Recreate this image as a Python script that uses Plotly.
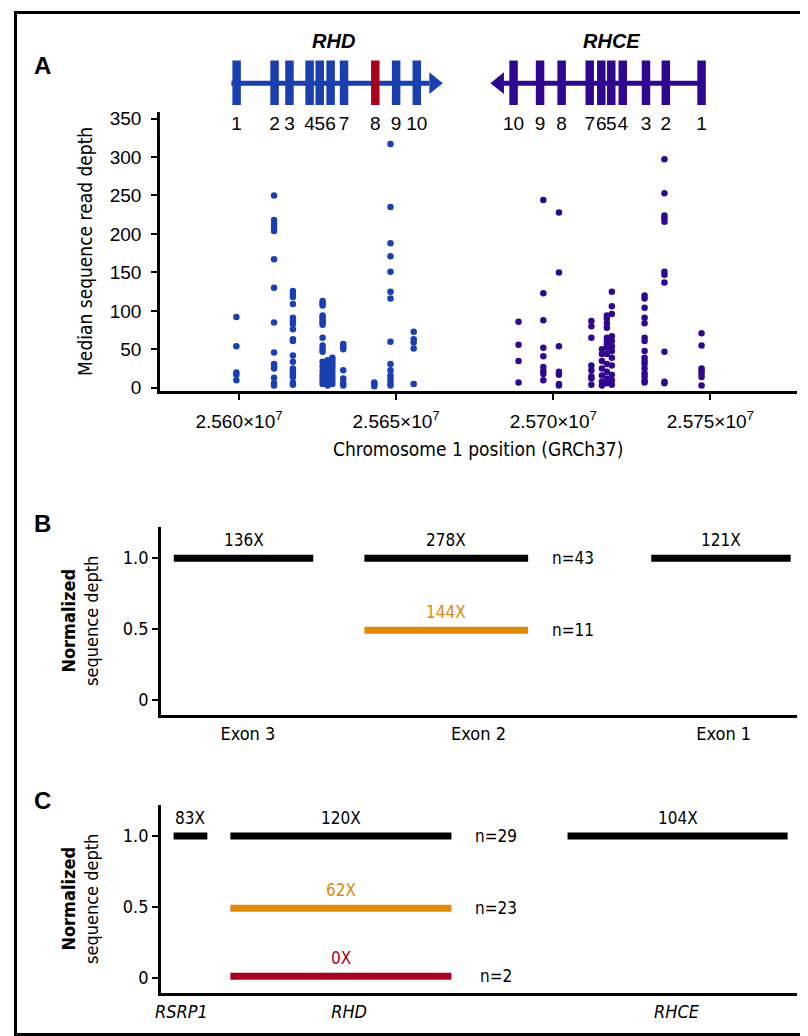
import plotly.graph_objects as go

W, H = 808, 1036

# ---------------------------------------------------------------------------
# Panel A: median read depth per amplicon (GRCh37, chr1)
# ---------------------------------------------------------------------------
rhd_col_pos = [25599150, 25611150, 25617150, 25626600, 25628200, 25629700,
               25633170, 25643050, 25648200, 25655590]
rhd_col_depth = [
    [92, 54, 20, 17, 10],
    [250, 218, 213, 209, 204, 167, 130, 85, 46, 31, 28, 25, 13, 6, 3],
    [126, 122, 118, 109, 91, 87, 83, 76, 63, 61, 42, 34, 25, 22, 18, 16, 14, 7, 4],
    [113, 110, 107, 94, 91, 88, 85, 82, 65, 55, 50, 47, 34, 28, 22, 17, 13, 9, 5],
    [36, 31, 26, 21, 15, 10, 6, 3],
    [39, 36, 32, 28, 24, 19, 14, 9, 5],
    [57, 54, 50, 23, 12, 7, 3],
    [7, 5, 2],
    [317, 235, 188, 171, 151, 125, 116, 60, 31, 23, 16, 11, 6, 3],
    [73, 63, 59, 51, 5],
]

rhce_col_pos = [25688950, 25696840, 25701800, 25712130, 25715480, 25717060,
                25718640, 25729060, 25735380, 25747190]
rhce_col_depth = [
    [86, 56, 35, 7],
    [244, 123, 88, 52, 41, 27, 22, 18, 10],
    [228, 150, 54, 21, 17, 5, 3],
    [87, 80, 65, 29, 23, 15, 12, 4],
    [50, 44, 35, 25, 16, 8, 3],
    [94, 90, 84, 78, 65, 61, 56, 52, 44, 31, 21, 12, 6],
    [125, 106, 96, 67, 61, 54, 48, 39, 29, 17, 10, 4],
    [120, 116, 104, 91, 84, 65, 61, 48, 39, 35, 31, 25, 19, 15, 10, 7],
    [297, 253, 224, 220, 216, 151, 147, 137, 47, 8, 6],
    [71, 55, 25, 22, 19, 14, 3],
]

# gene models (exon centres, left to right)
rhd_exons = [25599240, 25611310, 25616050, 25622460, 25625680, 25629150,
             25633420, 25643370, 25650000, 25656570]
rhd_exon_names = ["1", "2", "3", "4", "5", "6", "7", "8", "9", "10"]
rhd_span = [25597570, 25664850]      # start, arrow tip
rhd_variant_exon = "8"

rhce_exons = [25687370, 25695800, 25702660, 25711600, 25715290, 25718450,
              25722110, 25729500, 25735820, 25747190]
rhce_exon_names = ["10", "9", "8", "7", "6", "5", "4", "3", "2", "1"]
rhce_span = [25680000, 25747190]     # arrow tip, end

x_ticks = [25600000, 25650000, 25700000, 25750000]
x_tick_text = ["2.560×10<sup>7</sup>", "2.565×10<sup>7</sup>",
               "2.570×10<sup>7</sup>", "2.575×10<sup>7</sup>"]

# ---------------------------------------------------------------------------
# Panel B: exon-level normalized depth
# ---------------------------------------------------------------------------
b_categories = ["Exon 3", "Exon 2", "Exon 1"]
b_seg_start = [1.3, 20.5, 49.4, 20.5]
b_seg_end = [15.35, 37.0, 63.45, 37.0]
b_seg_depth = [1.0, 1.0, 1.0, 0.49]
b_seg_label = ["136X", "278X", "121X", "144X"]
b_seg_state = ["normal", "normal", "normal", "het"]
b_n_labels = ["n=43", "n=11"]
b_n_depth = [1.0, 0.49]

# ---------------------------------------------------------------------------
# Panel C: gene-level normalized depth
# ---------------------------------------------------------------------------
c_categories = ["RSRP1", "RHD", "RHCE"]
c_seg_start = [1.28, 7.0, 40.97, 7.0, 7.0]
c_seg_end = [4.68, 29.27, 63.14, 29.27, 29.27]
c_seg_depth = [1.0, 1.0, 1.0, 0.49, 0.01]
c_seg_label = ["83X", "120X", "104X", "62X", "0X"]
c_seg_state = ["normal", "normal", "normal", "het", "del"]
c_n_labels = ["n=29", "n=23", "n=2"]
c_n_depth = [1.0, 0.49, 0.01]

# ---------------------------------------------------------------------------
# styling
# ---------------------------------------------------------------------------
REG = "Liberation Sans, Arial, Helvetica, sans-serif"
NARROW = "Liberation Sans Narrow, Arial Narrow, DejaVu Sans Condensed, sans-serif"
BLUE = "#1a3faf"
PURPLE = "#30088f"
RED = "#a8001f"
ORANGE = "#e08a0c"
STATE_COLOR = {"normal": "black", "het": ORANGE, "del": RED}


def fx(px):
    return px / W


def fy(py):
    return 1 - py / H


def paper_text(px, py, text, font, angle=0):
    return dict(x=fx(px), y=fy(py), xref="paper", yref="paper", text=text,
                xanchor="center", yanchor="middle", textangle=angle,
                showarrow=False, font=font)


fig = go.Figure()

# scatter columns
for pos_list, depth_list, color in [(rhd_col_pos, rhd_col_depth, BLUE),
                                    (rhce_col_pos, rhce_col_depth, PURPLE)]:
    xs, ys = [], []
    for p, d in zip(pos_list, depth_list):
        xs += [p] * len(d)
        ys += d
    fig.add_trace(go.Scatter(x=xs, y=ys, mode="markers", xaxis="x", yaxis="y",
                             marker=dict(size=6.5, color=color), hoverinfo="skip"))

# exon numbers (also creates the gene-track subplot)
fig.add_trace(go.Scatter(
    x=rhd_exons + rhce_exons, y=[115] * (len(rhd_exons) + len(rhce_exons)),
    text=rhd_exon_names + rhce_exon_names, mode="text", xaxis="x", yaxis="y2",
    textfont=dict(family=REG, size=19, color="black"), hoverinfo="skip",
    cliponaxis=False))

shapes = []
EXON_HALF = 1350
HEAD = 4300


def gene_shapes(exons, names, start, end, color, tip_right):
    out = []
    if tip_right:
        line_x0, line_x1 = start, end - HEAD
        head = f"M {end - HEAD},62 L {end},73 L {end - HEAD},84 Z"
    else:
        line_x0, line_x1 = start + HEAD, end
        head = f"M {start + HEAD},62 L {start},73 L {start + HEAD},84 Z"
    out.append(dict(type="rect", xref="x", yref="y2", x0=line_x0, x1=line_x1,
                    y0=70.5, y1=75.5, fillcolor=color, line=dict(width=0)))
    out.append(dict(type="path", xref="x", yref="y2", path=head,
                    fillcolor=color, line=dict(width=0)))
    for c, n in zip(exons, names):
        col = RED if (tip_right and n == rhd_variant_exon) else color
        out.append(dict(type="rect", xref="x", yref="y2", x0=c - EXON_HALF,
                        x1=c + EXON_HALF, y0=50, y1=95, fillcolor=col,
                        line=dict(width=0)))
    return out


shapes += gene_shapes(rhd_exons, rhd_exon_names, rhd_span[0], rhd_span[1], BLUE, True)
shapes += gene_shapes(rhce_exons, rhce_exon_names, rhce_span[0], rhce_span[1], PURPLE, False)

# panels B and C segments
annotations = []
for xa, ya, starts, ends, depths, labels, states in [
        ("x2", "y3", b_seg_start, b_seg_end, b_seg_depth, b_seg_label, b_seg_state),
        ("x3", "y4", c_seg_start, c_seg_end, c_seg_depth, c_seg_label, c_seg_state)]:
    for s, e, d, lab, st in zip(starts, ends, depths, labels, states):
        col = STATE_COLOR[st]
        fig.add_trace(go.Scatter(x=[s, e], y=[d, d], mode="lines", xaxis=xa, yaxis=ya,
                                 line=dict(color=col, width=7), hoverinfo="skip"))
        annotations.append(dict(x=(s + e) / 2, y=d, xref=xa, yref=ya, text=lab,
                                xanchor="center", yanchor="middle",
                                showarrow=False, yshift=18,
                                font=dict(family=NARROW, size=17, color=col)))

for xa, ya, labels, depths, xpos in [("x2", "y3", b_n_labels, b_n_depth, 41.5),
                                     ("x3", "y4", c_n_labels, c_n_depth, 33.8)]:
    for lab, d in zip(labels, depths):
        annotations.append(dict(x=xpos, y=d, xref=xa, yref=ya, text=lab,
                                xanchor="center", yanchor="middle", showarrow=False,
                                font=dict(family=NARROW, size=17, color="black")))

# panel letters and titles
for letter, px, py in [("A", 29, 55), ("B", 29, 518), ("C", 29, 798)]:
    annotations.append(paper_text(px, py, f"<b>{letter}</b>",
                                  dict(family=REG, size=24, color="black")))
for gene, px in [("RHD", 322), ("RHCE", 602)]:
    annotations.append(paper_text(px, 30, f"<b><i>{gene}</i></b>",
                                  dict(family=REG, size=20, color="black")))
annotations.append(paper_text(72, 243, "Median sequence read depth",
                              dict(family=NARROW, size=19, color="black"), -90))
annotations.append(paper_text(467, 443, "Chromosome 1 position (GRCh37)",
                              dict(family=NARROW, size=19, color="black")))
for py in [617, 898]:
    annotations.append(paper_text(67, py, "<b>Normalized</b><br>sequence depth",
                                  dict(family=NARROW, size=18, color="black"), -90))

# full figure frame
shapes.append(dict(type="rect", xref="paper", yref="paper", x0=fx(1.5), x1=fx(806.5),
                   y0=fy(1034.5), y1=fy(1.5), line=dict(color="black", width=3)))

axis_common = dict(showgrid=False, zeroline=False, showline=True, linecolor="black",
                   linewidth=2.5, ticks="outside", tickcolor="black", tickwidth=2,
                   ticklen=6)

fig.update_layout(
    width=W, height=H,
    margin=dict(l=0, r=0, t=0, b=0),
    paper_bgcolor="white", plot_bgcolor="white",
    showlegend=False,
    xaxis=dict(**axis_common, domain=[fx(147), fx(788.6)], anchor="y",
               range=[25574826, 25777480], tickvals=x_ticks, ticktext=x_tick_text,
               tickfont=dict(family=REG, size=19, color="black"), ticklabelstandoff=6),
    yaxis=dict(**axis_common, domain=[fy(384), fy(101.7)], anchor="x",
               range=[-4, 359], tickvals=[0, 50, 100, 150, 200, 250, 300, 350],
               tickfont=dict(family=REG, size=19, color="black"), ticklabelstandoff=6),
    yaxis2=dict(domain=[fy(125), fy(40)], anchor="x", range=[125, 40],
                visible=False, fixedrange=True),
    xaxis2=dict(showgrid=False, zeroline=False, showline=True, linecolor="black",
                linewidth=2.5, ticks="", domain=[fx(148), fx(788.6)], anchor="y3",
                range=[0, 64.06], tickvals=[8.76, 32.0, 56.7], ticktext=b_categories,
                tickfont=dict(family=NARROW, size=18, color="black")),
    yaxis3=dict(**axis_common, domain=[fy(712), fy(522)], anchor="x2",
                range=[-0.112, 1.217], tickvals=[0, 0.5, 1.0], ticktext=["0", "0.5", "1.0"],
                tickfont=dict(family=NARROW, size=18, color="black")),
    xaxis3=dict(showgrid=False, zeroline=False, showline=True, linecolor="black",
                linewidth=2.5, ticks="", domain=[fx(148), fx(788.6)], anchor="y4",
                range=[0, 64.06], tickvals=[2.06, 18.96, 51.95],
                ticktext=[f"<i>{c}</i>" for c in c_categories],
                tickfont=dict(family=NARROW, size=18, color="black")),
    yaxis4=dict(**axis_common, domain=[fy(993), fy(803)], anchor="x3",
                range=[-0.112, 1.215], tickvals=[0, 0.5, 1.0], ticktext=["0", "0.5", "1.0"],
                tickfont=dict(family=NARROW, size=18, color="black")),
    shapes=shapes,
    annotations=annotations,
)

fig.write_html("out.html")
